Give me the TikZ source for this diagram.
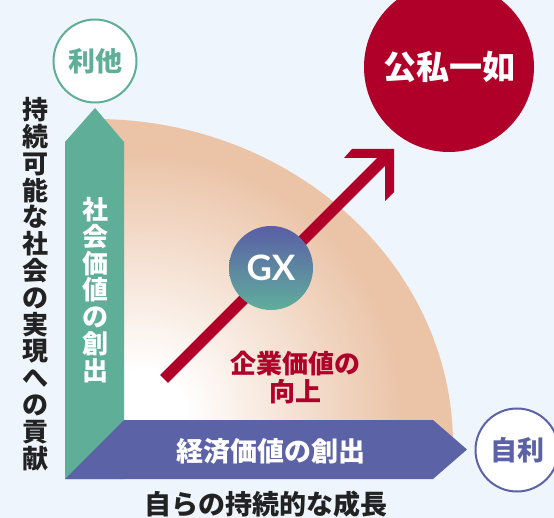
\documentclass[tikz,border=0pt]{standalone}
\usepackage{fontspec}
\newfontfamily\jp{Noto Sans CJK JP}
\newfontfamily\lat{Lato}
\definecolor{bg}{HTML}{EFF5FC}
\definecolor{peach}{HTML}{EBC4A8}
\definecolor{grn}{HTML}{5FAE97}
\definecolor{blu}{HTML}{5B62A5}
\definecolor{rd}{HTML}{B00029}
\definecolor{ink}{HTML}{222222}
\definecolor{gxtop}{HTML}{5A5EA6}
\definecolor{gxmid}{HTML}{5B67A6}
\definecolor{gxbot}{HTML}{60AE9C}
\pgfdeclareradialshading{glow}{\pgfpoint{0bp}{0bp}}{color(0bp)=(white); color(2.5bp)=(white); color(14.5bp)=(peach); color(50bp)=(peach)}
\tikzset{
  jpf/.style={font=\jp\bfseries\fontsize{#1}{#1}\selectfont},
  endcirc/.style={circle, fill=white, line width=2pt, minimum size=83pt, inner sep=0pt, jpf=27},
  vtext/.style={align=center, inner sep=0pt},
  label/.style={inner sep=0pt, jpf=27}
}
\begin{document}
\begin{tikzpicture}[x=1pt, y=-1pt]
\useasboundingbox (0,0) rectangle (554,518);
\clip (0,0) rectangle (554,518);
\fill[bg] (0,0) rectangle (554,518);
% quarter field with glow
\begin{scope}
  \clip (95,445) -- (453,445) arc[start angle=0, end angle=90, x radius=358pt, y radius=326pt] -- cycle;
  \shade[shading=glow] (140,415) circle[radius=450pt];
\end{scope}
% social value arrow (green)
\fill[grn] (65,479) -- (65,142) -- (95,108) -- (124,142) -- (124,479) -- cycle;
% economic value arrow (blue)
\fill[blu] (65,479) -- (124,420) -- (433,420) -- (467,449.5) -- (433,479) -- cycle;
% red growth arrow
\coordinate (tail) at (164,379);
\coordinate (inner) at (386,157);
\draw[rd, line width=11pt] (tail) -- (inner);
\fill[rd] (394,149) -- (352,149) -- (344,158) -- (385,158) -- (385,201) -- (394,192) -- cycle;
% GX
\node[circle, minimum size=84pt, inner sep=0pt, top color=gxtop, middle color=gxmid, bottom color=gxbot, text=white, font=\lat\bfseries\fontsize{35}{35}\selectfont] (gx) at (271,268) {GX};
% labels
\node[vtext, text=ink, font=\jp\bfseries\fontsize{26}{26.8}\selectfont] (left) at (35,284) {持\\続\\可\\能\\な\\社\\会\\の\\実\\現\\へ\\の\\貢\\献};
\node[vtext, text=white, font=\jp\bfseries\fontsize{26}{26.8}\selectfont] (social) at (95,290) {社\\会\\価\\値\\の\\創\\出};
\node[label, text=white] (econ) at (271,451) {経済価値の創出};
\node[label, text=ink] (bottom) at (266,504) {自らの持続的な成長};
\node[vtext, text=rd, font=\jp\bfseries\fontsize{26}{28}\selectfont] (kigyo) at (295,378) {企業価値の\\向上};
% end circles
\node[endcirc, draw=grn, text=grn] (rita) at (95,61) {利他};
\node[endcirc, draw=blu, text=blu] (jiri) at (517,450) {自利};
\node[circle, fill=rd, minimum size=170pt, inner sep=0pt, text=white, jpf=33] (koshi) at (449,67) {公私一如};
\end{tikzpicture}
\end{document}
